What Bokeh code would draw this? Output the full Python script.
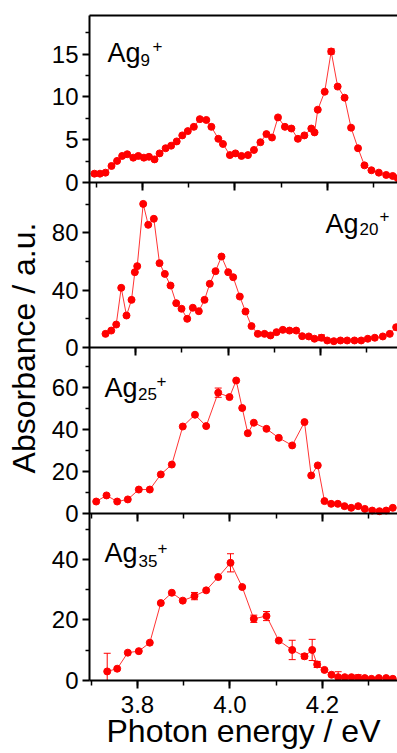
import math
from bokeh.plotting import figure
from bokeh.models import (Range1d, LinearAxis, SingleIntervalTicker, FixedTicker, Label,
                          Whisker, TeeHead, ColumnDataSource, PrintfTickFormatter)
from bokeh.embed import file_html
from bokeh.resources import INLINE

# ---------------- data ----------------
ag9_energy = [3.696, 3.708, 3.720, 3.733, 3.745, 3.756, 3.767, 3.780, 3.791, 3.803,
              3.814, 3.826, 3.837, 3.850, 3.862, 3.874, 3.886, 3.898, 3.911, 3.924,
              3.938, 3.949, 3.964, 3.974, 3.989, 4.001, 4.014, 4.028, 4.041, 4.055,
              4.068, 4.080, 4.093, 4.108, 4.122, 4.136, 4.150, 4.165, 4.172, 4.179,
              4.194, 4.208, 4.222, 4.237, 4.251, 4.266, 4.280, 4.295, 4.311, 4.327,
              4.341, 4.352]
ag9_abs = [1.03, 1.03, 1.15, 1.93, 2.52, 3.1, 3.3, 2.9, 3.1, 2.9,
           3.0, 2.7, 3.4, 4.0, 4.3, 4.8, 5.5, 6.0, 6.5, 7.4,
           7.3, 6.5, 5.1, 4.5, 3.2, 3.4, 3.1, 3.2, 3.8, 4.7,
           5.65, 5.25, 7.6, 6.5, 6.3, 5.1, 5.5, 6.3, 5.85, 8.5,
           10.6, 15.3, 11.2, 9.9, 6.4, 4.0, 2.0, 1.43, 1.15, 0.88,
           0.76, 0.5]
ag9_err = [0] * 41 + [0.3] + [0] * 10

ag20_energy = [3.7351, 3.7475, 3.7583, 3.7691, 3.7805, 3.7914, 3.7985, 3.8037, 3.8166, 3.8275,
               3.8396, 3.8519, 3.8634, 3.8757, 3.8880, 3.8995, 3.9118, 3.9239, 3.9369, 3.9492,
               3.9606, 3.9730, 3.9859, 4.0004, 4.0112, 4.0255, 4.0378, 4.0508, 4.0644, 4.0789,
               4.0919, 4.1049, 4.1185, 4.1330, 4.1475, 4.1604, 4.1747, 4.1870, 4.2022, 4.2145,
               4.2288, 4.2432, 4.2577, 4.2735, 4.2880, 4.3023, 4.3174, 4.3347, 4.3498, 4.3636]
ag20_abs = [9.5, 11.8, 16, 41.6, 22.3, 33.2, 52.5, 56.7, 100.1, 85.5,
            89.7, 58.8, 51.3, 43.2, 30.9, 27, 20, 27.7, 25.3, 33.2,
            44.4, 53.2, 63.4, 52.5, 49, 35.5, 25.1, 14.9, 9.5, 9.5,
            8.4, 10.7, 12.3, 11.8, 11.8, 7.9, 7.7, 6.1, 6.8, 4.9,
            4.4, 4.9, 4.9, 4.9, 4.9, 6.1, 6.8, 7.7, 9.5, 14.1]
ag20_err = [0] * 38 + [2.0] + [0] * 11

ag25_energy = [3.7107, 3.7330, 3.7561, 3.7790, 3.8028, 3.8266, 3.8504, 3.8742, 3.8979, 3.9243,
               3.9485, 3.9745, 3.9989, 4.0134, 4.0264, 4.0385, 4.0515, 4.0789, 4.1055, 4.1345,
               4.1611, 4.1756, 4.1898, 4.2043, 4.2188, 4.2331, 4.2476, 4.2621, 4.2772, 4.2915,
               4.3075, 4.3232, 4.3377, 4.3520]
ag25_abs = [5.7, 8.6, 5.7, 6.7, 11.4, 11.4, 18.6, 23.3, 41.4, 47,
            41.6, 57.5, 55.4, 63.3, 50.2, 38.2, 43.2, 40.3, 36, 32.4,
            43.5, 18.1, 22.9, 5.9, 4.6, 4.6, 3.5, 2.7, 3.5, 2.2,
            1.4, 1.1, 1.4, 2.7]
ag25_err = [0] * 11 + [2.2] + [0] * 22

ag35_energy = [3.7345, 3.7561, 3.7790, 3.8028, 3.8266, 3.8504, 3.8742, 3.8979, 3.9232, 3.9485,
               3.9745, 4.0011, 4.0264, 4.0515, 4.0789, 4.1055, 4.1345, 4.1611, 4.1777, 4.1885,
               4.2043, 4.2195, 4.2339, 4.2482, 4.2627, 4.2772, 4.2915, 4.3059, 4.3217, 4.3377,
               4.3520]
ag35_abs = [3.0, 3.9, 9.2, 9.7, 12.5, 25.6, 29, 26.4, 27.9, 29.8,
            34.2, 38.9, 30.9, 20.4, 21.3, 13.2, 10.1, 8.0, 10.1, 5.3,
            3.5, 1.9, 1.1, 1.1, 1.1, 0.9, 0.8, 0.55, 0.8, 0.8,
            0.55]
ag35_err = [6.0, 0, 0, 0, 0, 0, 0, 0, 1.2, 0,
            0, 3.0, 0, 1.2, 1.5, 0, 3.2, 0.8, 3.5, 1.0,
            0, 0, 1.8, 0, 0, 1.0, 0, 0, 0, 0,
            0]

cluster_sizes = ["9", "20", "25", "35"]
x_ticks_step = 0.2
x_label = "Photon energy / eV"
y_label = "Absorbance / a.u."

# ---------------- layout (frame pixels, origin at frame bottom-left) ----------------
FW, FH = 308, 665
panels = [
    dict(x=ag9_energy, y=ag9_abs, e=ag9_err, xr=(3.6854, 4.3514), yr=(0, 19.5),
         b=498, h=167, step=5, lab=((18, 628), (51, 621), (63, 635))),
    dict(x=ag20_energy, y=ag20_abs, e=ag20_err, xr=(3.7005, 4.3665), yr=(0, 115),
         b=333, h=165, step=40, lab=((236, 457), (270, 452), (290, 465))),
    dict(x=ag25_energy, y=ag25_abs, e=ag25_err, xr=(3.6962, 4.3622), yr=(0, 79),
         b=167, h=166, step=20, lab=((15, 293), (48.5, 287), (67, 300))),
    dict(x=ag35_energy, y=ag35_abs, e=ag35_err, xr=(3.6962, 4.3622), yr=(0, 55.2),
         b=0, h=167, step=20, lab=((15, 128), (49, 120), (68, 133))),
]

FONT = "Liberation Sans"
RED = "#ff0000"

p = figure(width=397, height=753, x_range=Range1d(0, FW), y_range=Range1d(0, FH),
           x_axis_type=None, y_axis_type=None, output_backend="svg",
           toolbar_location=None, min_border_left=89, min_border_right=0,
           min_border_top=15, min_border_bottom=73)
p.outline_line_color = None
p.background_fill_color = "white"
p.border_fill_color = "white"


def style_axis(ax, tick_out, minor_out, labels=True):
    ax.axis_line_width = 2
    ax.axis_line_color = "black"
    ax.major_tick_line_width = 2
    ax.minor_tick_line_width = 1.5
    ax.major_tick_line_color = "black"
    ax.minor_tick_line_color = "black"
    ax.major_tick_in = 0
    ax.minor_tick_in = 0
    ax.major_tick_out = tick_out
    ax.minor_tick_out = minor_out
    ax.major_label_text_font = FONT
    ax.major_label_text_font_size = "24px"
    ax.major_label_text_color = "black" if labels else None


major_pos, minor_pos, overrides = [], [], {}
n = len(panels)
for i, pan in enumerate(panels):
    lo, hi = pan["yr"]
    scale = pan["h"] / (hi - lo)
    start = lo - pan["b"] / scale
    end = start + FH / scale
    xn, yn = f"x{i}", f"y{i}"
    p.extra_x_ranges[xn] = Range1d(*pan["xr"])
    p.extra_y_ranges[yn] = Range1d(start, end)

    src = ColumnDataSource(dict(x=pan["x"], y=pan["y"]))
    p.line("x", "y", source=src, x_range_name=xn, y_range_name=yn,
           line_color=RED, line_width=1, line_alpha=0.8)
    p.scatter("x", "y", source=src, x_range_name=xn, y_range_name=yn,
              size=7, fill_color=RED, line_color=RED)

    ex = [xv for xv, ev in zip(pan["x"], pan["e"]) if ev > 0]
    eu = [yv + ev for yv, ev in zip(pan["y"], pan["e"]) if ev > 0]
    el = [yv - ev for yv, ev in zip(pan["y"], pan["e"]) if ev > 0]
    if ex:
        esrc = ColumnDataSource(dict(x=ex, upper=eu, lower=el))
        w = Whisker(source=esrc, base="x", upper="upper", lower="lower",
                    dimension="height", line_color=RED, line_width=1,
                    x_range_name=xn, y_range_name=yn,
                    upper_head=TeeHead(size=7, line_color=RED, line_width=1),
                    lower_head=TeeHead(size=7, line_color=RED, line_width=1))
        p.add_layout(w)

    # y ticks of this panel, mapped into the shared left axis
    step = pan["step"]
    v = lo
    while v <= hi + 1e-9:
        pos = round(pan["b"] + (v - lo) * scale, 2)
        major_pos.append(pos)
        overrides[pos] = f"{v:g}"
        vm = v + step / 2
        if vm <= hi:
            minor_pos.append(round(pan["b"] + (vm - lo) * scale, 2))
        v += step

    if i < n - 1:
        # bottom line of this panel, ticks pointing down into the next one
        xax = LinearAxis(x_range_name=xn, fixed_location=pan["b"],
                         ticker=SingleIntervalTicker(interval=x_ticks_step, num_minor_ticks=2))
        style_axis(xax, 8, 5, labels=False)
        xax.major_label_text_font_size = "1px"
        xax.major_label_standoff = 0
        p.add_layout(xax, "below")
    else:
        xax = LinearAxis(x_range_name=xn,
                         ticker=SingleIntervalTicker(interval=x_ticks_step, num_minor_ticks=2),
                         formatter=PrintfTickFormatter(format="%.1f"))
        style_axis(xax, 8, 5, labels=True)
        xax.major_label_standoff = 7
        xax.axis_label = x_label
        xax.axis_label_text_font = FONT
        xax.axis_label_text_font_size = "32px"
        xax.axis_label_text_font_style = "normal"
        xax.axis_label_text_color = "black"
        xax.axis_label_standoff = -3
        p.add_layout(xax, "below")

    # panel label  Ag_n^+
    pa, ps, pp = pan["lab"]
    p.add_layout(Label(x=pa[0], y=pa[1], text="Ag", text_font=FONT,
                       text_font_size="27px", text_color="black",
                       text_baseline="alphabetic", text_align="left"))
    p.add_layout(Label(x=ps[0], y=ps[1], text=cluster_sizes[i], text_font=FONT,
                       text_font_size="17px", text_color="black",
                       text_baseline="alphabetic", text_align="left"))
    p.add_layout(Label(x=pp[0], y=pp[1], text="+", text_font=FONT,
                       text_font_size="17px", text_color="black",
                       text_baseline="alphabetic", text_align="left"))

# shared left axis carrying every panel's ticks
yax = LinearAxis(ticker=FixedTicker(ticks=major_pos, minor_ticks=minor_pos),
                 major_label_overrides=overrides)
style_axis(yax, 7, 4)
yax.major_label_standoff = 4
yax.axis_label = y_label
yax.axis_label_text_font = FONT
yax.axis_label_text_font_size = "32px"
yax.axis_label_text_font_style = "normal"
yax.axis_label_text_color = "black"
yax.axis_label_standoff = 7
p.add_layout(yax, "left")

# top border of the first panel
top = LinearAxis(x_range_name="x0",
                 ticker=SingleIntervalTicker(interval=x_ticks_step, num_minor_ticks=2))
style_axis(top, 0, 0, labels=False)
top.major_label_text_font_size = "1px"
top.major_label_standoff = 0
p.add_layout(top, "above")

open("out.html", "w").write(file_html(p, INLINE))
